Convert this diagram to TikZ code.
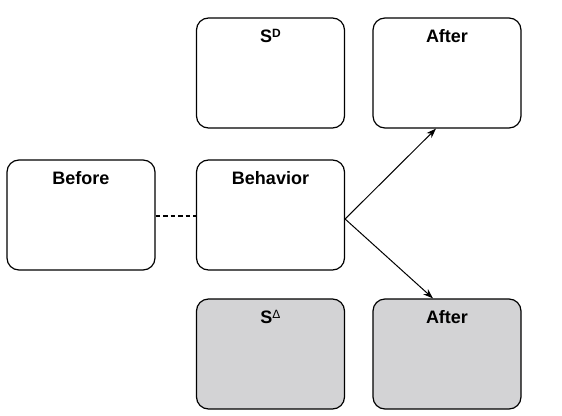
\documentclass[tikz,border=0pt]{standalone}
\usepackage{fontspec}
\setmainfont{Liberation Sans}
\usetikzlibrary{arrows.meta,calc}
\definecolor{boxgray}{RGB}{211,211,213}
\tikzset{
  box/.style={draw=black, line width=1.2pt, rounded corners=12pt, minimum width=148pt, minimum height=110pt, inner sep=0pt,
    label={[anchor=base, yshift=-25pt, font=\fontsize{18}{18}\selectfont\bfseries, inner sep=0pt]north:#1}},
  graybox/.style={box=#1, fill=boxgray},
  conn/.style={line width=1pt, -{Stealth[length=10pt,width=7pt]}},
  dashconn/.style={line width=1.4pt, dash pattern=on 4.5pt off 3pt}
}
\newcommand{\supD}{\raisebox{5pt}{\fontsize{12}{12}\selectfont D}}
\newcommand{\supDelta}{\raisebox{5pt}{\fontsize{12}{12}\selectfont\mdseries Δ}}
\begin{document}
\begin{tikzpicture}[x=1pt,y=1pt]
\useasboundingbox (0,0) rectangle (562,-415);
\node[box={S\supD}] (sd) at (270.5,-73) {};
\node[box={After}] (aftA) at (447,-73) {};
\node[box={Before}] (bef) at (81,-215) {};
\node[box={Behavior}] (beh) at (270.5,-215) {};
\node[graybox={S\supDelta}] (sdel) at (270.5,-354) {};
\node[graybox={After}] (aftB) at (447,-354) {};
\coordinate (fork) at ([yshift=-4pt]beh.east);
\draw[dashconn] (bef.east |- 0,-216) -- (beh.west |- 0,-216);
\draw[conn] (fork) -- ([xshift=-11pt]aftA.south);
\draw[conn] (fork) -- ([xshift=-14pt]aftB.north);
\end{tikzpicture}
\end{document}
